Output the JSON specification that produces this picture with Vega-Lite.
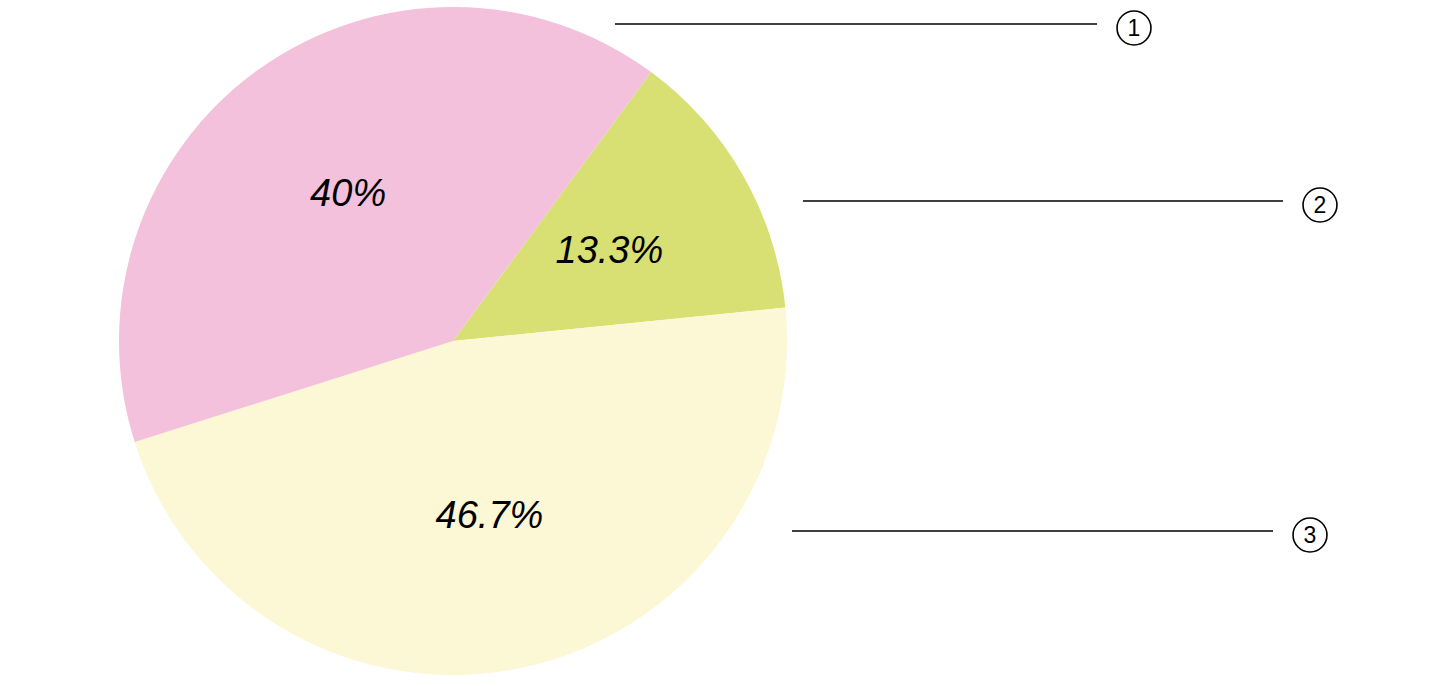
{
  "$schema": "https://vega.github.io/schema/vega-lite/v6.json",
  "width": 1440,
  "height": 686,
  "autosize": {"type": "fit", "contains": "padding"},
  "padding": 0,
  "background": "white",
  "config": {"view": {"stroke": null}},
  "datasets": {
    "slices": [
      {"category": "②", "order": 1, "share": 13.3, "label": "13.3%"},
      {"category": "③", "order": 2, "share": 46.7, "label": "46.7%"},
      {"category": "①", "order": 3, "share": 40, "label": "40%"}
    ],
    "leaders": [
      {"category": "①", "digit": "1", "start": 615, "end": 1097, "level": 24},
      {"category": "②", "digit": "2", "start": 803, "end": 1283, "level": 201},
      {"category": "③", "digit": "3", "start": 792, "end": 1273, "level": 531}
    ]
  },
  "layer": [
    {
      "data": {"name": "slices"},
      "mark": {"type": "arc", "outerRadius": 334},
      "encoding": {
        "x": {"datum": 453, "type": "quantitative", "scale": {"domain": [0, 1440], "nice": false, "zero": false}, "axis": null},
        "y": {"datum": 341, "type": "quantitative", "scale": {"domain": [0, 686], "nice": false, "zero": false, "reverse": true}, "axis": null},
        "theta": {"field": "share", "type": "quantitative", "stack": true, "scale": {"range": [0.635, 6.918]}},
        "order": {"field": "order", "type": "quantitative"},
        "color": {
          "field": "category", "type": "nominal", "legend": null,
          "scale": {"domain": ["①", "②", "③"], "range": ["#f3c1db", "#d8df73", "#fcf7d4"]}
        }
      }
    },
    {
      "data": {"name": "slices"},
      "mark": {"type": "text", "radius": 180, "font": "Liberation Sans", "fontStyle": "italic", "fontSize": 38, "color": "black", "align": "center", "baseline": "middle"},
      "encoding": {
        "x": {"datum": 453, "type": "quantitative"},
        "y": {"datum": 341, "type": "quantitative"},
        "theta": {"field": "share", "type": "quantitative", "stack": true, "scale": {"range": [0.635, 6.918]}},
        "order": {"field": "order", "type": "quantitative"},
        "text": {"field": "label", "type": "nominal"}
      }
    },
    {
      "data": {"name": "leaders"},
      "mark": {"type": "rule", "color": "black", "strokeWidth": 1.5},
      "encoding": {
        "x": {"field": "start", "type": "quantitative"},
        "x2": {"field": "end"},
        "y": {"field": "level", "type": "quantitative"}
      }
    },
    {
      "data": {"name": "leaders"},
      "mark": {"type": "point", "shape": "circle", "size": 1150, "filled": false, "color": "black", "strokeWidth": 1.6, "opacity": 1, "xOffset": 37, "yOffset": 4},
      "encoding": {
        "x": {"field": "end", "type": "quantitative"},
        "y": {"field": "level", "type": "quantitative"}
      }
    },
    {
      "data": {"name": "leaders"},
      "mark": {"type": "text", "font": "Liberation Sans", "fontSize": 23, "color": "black", "align": "center", "baseline": "middle", "dx": 37, "dy": 5},
      "encoding": {
        "x": {"field": "end", "type": "quantitative"},
        "y": {"field": "level", "type": "quantitative"},
        "text": {"field": "digit", "type": "nominal"}
      }
    }
  ]
}
